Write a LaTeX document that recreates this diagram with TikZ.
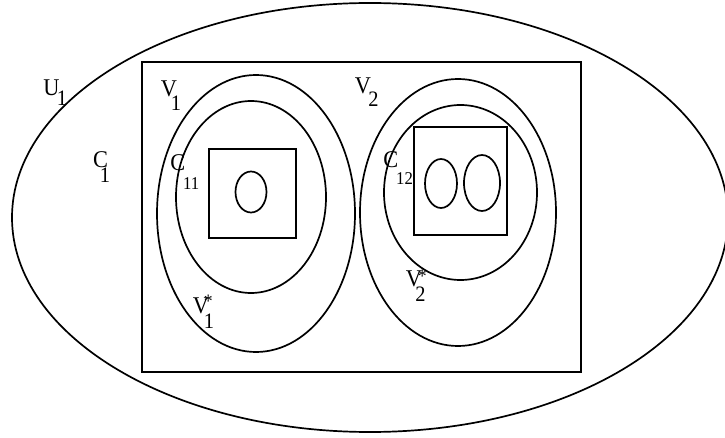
\documentclass[tikz,border=0pt]{standalone}
\usepackage{fontspec}
\setmainfont{Liberation Serif}[FakeStretch=0.93]
\tikzset{
  lbl/.style={inner sep=0pt, anchor=base west, font=\fontsize{24}{24}\selectfont},
  lblsub/.style={lbl, font=\fontsize{22}{22}\selectfont},
  lblsmall/.style={lbl, font=\fontsize{18}{18}\selectfont},
  lblstar/.style={lbl, font=\fontsize{19}{19}\selectfont},
}

\begin{document}
\begin{tikzpicture}[x=1pt,y=-1pt,line width=1.7pt]
    \useasboundingbox (0,0) rectangle (725,438);
    % outer set and the box
    \draw (370,217.5) ellipse [x radius=358, y radius=214.5];
    \draw (142,62) rectangle (581,372);
    % left part
    \draw (256,213.5) ellipse [x radius=99, y radius=138.5];
    \draw (251,197) ellipse [x radius=75, y radius=96];
    \draw (209,149) rectangle (296,238);
    \draw (251,192) ellipse [x radius=15.5, y radius=20.5];
    % right part
    \draw (458,212.5) ellipse [x radius=98, y radius=133.5];
    \draw (460.5,192.5) ellipse [x radius=76.5, y radius=87.5];
    \draw (414,127) rectangle (507,235);
    \draw (441,183.5) ellipse [x radius=16, y radius=24.5];
    \draw (482,183) ellipse [x radius=18, y radius=28];
    % labels
    \node [lbl] (U) at (42.5,95.5) {U};
    \node [lblsub] (U1) at (56,106) {1};
    \node [lbl] (V) at (160,97) {V};
    \node [lblsub] (V1) at (170,111) {1};
    \node [lbl] (W) at (354,94) {V};
    \node [lblsub] (W2) at (367.5,107) {2};
    \node [lbl] (C) at (92.2,167.7) {C};
    \node [lblsub] (C1) at (99,183) {1};
    \node [lbl] (D) at (169.5,170.5) {C};
    \node [lblsmall] (D11) at (182.3,190) {11};
    \node [lbl] (E) at (382.5,167.5) {C};
    \node [lblsmall] (E12) at (395.3,185) {12};
    \node [lbl] (Vs) at (192,313) {V};
    \node [lblstar] (Vs1) at (203,307.8) {*};
    \node [lblsub] (Vs2) at (203,328) {1};
    \node [lbl] (Ws) at (405,287) {V};
    \node [lblstar] (Ws1) at (417,282.8) {*};
    \node [lblsub] (Ws2) at (414.5,301) {2};
\end{tikzpicture}
\end{document}
